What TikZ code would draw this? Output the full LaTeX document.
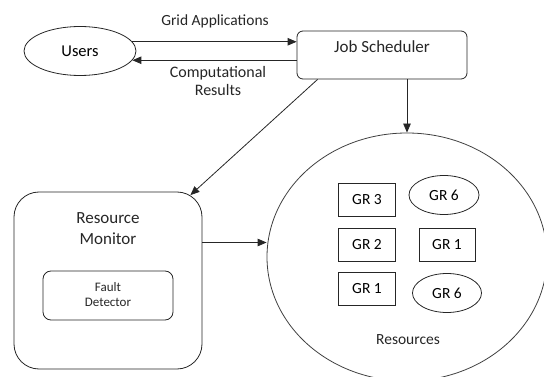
\documentclass[tikz,border=0pt]{standalone}
\usepackage{fontspec}
\setmainfont{Carlito}
\usetikzlibrary{arrows.meta,shapes.geometric,calc}

\tikzset{
  line/.style={draw=black!85, line width=0.8pt},
  arr/.style={line, -{Triangle[length=9pt,width=7.5pt]}},
  rbox/.style={line, rectangle, rounded corners=6pt, inner sep=0pt},
  grbox/.style={line, rectangle, inner sep=0pt, minimum width=57pt, minimum height=33pt, font=\fontsize{15.5}{18}\selectfont},
  grell/.style={line, ellipse, inner sep=0pt, minimum width=70pt, minimum height=39pt, font=\fontsize{15.5}{18}\selectfont},
  lbl/.style={text=black!85, align=center, inner sep=0pt},
}

\begin{document}
\begin{tikzpicture}[x=1pt,y=-1pt]
\useasboundingbox (0,0) rectangle (544,377);

% users and scheduler
\node[line, ellipse, inner sep=0pt, minimum width=112pt, minimum height=49pt,
      font=\fontsize{16.5}{20}\selectfont] (users) at (80,51) {Users};
\node[rbox, minimum width=170pt, minimum height=48pt] (js) at (382,55) {};
\node[lbl, font=\fontsize{17}{20}\selectfont] (jstext) at (382,47) {Job Scheduler};

% resource monitor with its fault detector
\node[line, rectangle, rounded corners=25pt, minimum width=188pt, minimum height=177pt] (rm) at (108,280.5) {};
\node[lbl, font=\fontsize{17}{21}\selectfont] (rmtext) at (108,229) {Resource\\Monitor};
\node[line, rectangle, rounded corners=8pt, minimum width=130pt, minimum height=49pt] (fd) at (108,295.5) {};
\node[lbl, font=\fontsize{13}{15}\selectfont] (fdtext) at (108,295) {Fault\\Detector};

% resource pool
\node[draw=black!75, line width=0.8pt, ellipse, inner sep=0pt, minimum width=280pt, minimum height=248pt] (res) at (407,257) {};
\node[lbl, font=\fontsize{15.5}{18}\selectfont] (restext) at (408,340) {Resources};

\node[grbox] (gr3) at (367,200) {GR 3};
\node[grell] (gr6a) at (444,195) {GR 6};
\node[grbox] (gr2) at (367,245) {GR 2};
\node[grbox, minimum width=56pt] (gr1a) at (447,245) {GR 1};
\node[grbox] (gr1b) at (367,289) {GR 1};
\node[grell, minimum width=69pt] (gr6b) at (447,293) {GR 6};

% connectors
\draw[arr] (users.10) -- (users.10 -| js.west);
\draw[arr] (users.-10 -| js.west) -- (users.-10);
\node[lbl, font=\fontsize{15.5}{18}\selectfont] (ga) at (215,21) {Grid Applications};
\node[lbl, font=\fontsize{16}{18}\selectfont] (cr) at (218,81) {Computational\\Results};

\draw[arr] ($(js.south west)+(21,0)$) -- ($(rm.north east)+(-12,3.5)$);
\draw[arr] (res.north |- js.south) -- (res.north);
\coordinate (rmout) at ($(rm.east)+(0,-38)$);
\draw[arr] (rmout) -- (rmout -| res.west);
\end{tikzpicture}
\end{document}
